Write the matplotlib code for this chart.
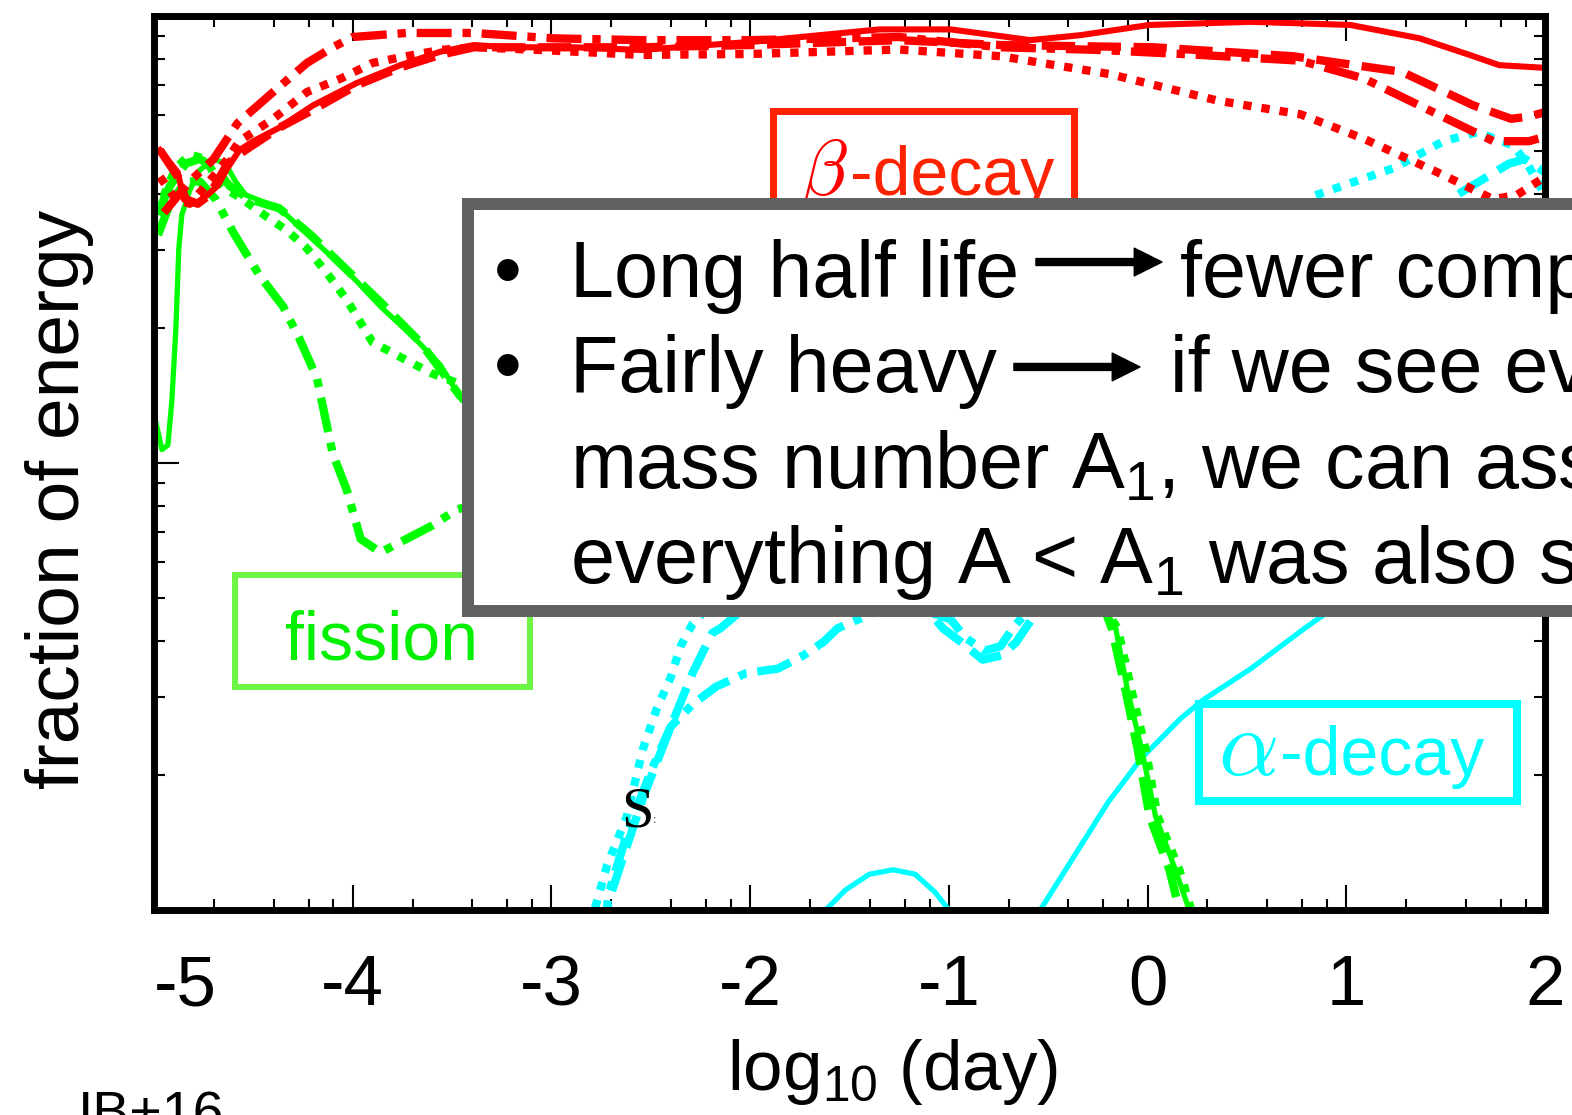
import numpy as np
import matplotlib
matplotlib.use("Agg")
import matplotlib.pyplot as plt
from matplotlib.patches import Rectangle, FancyArrowPatch
from matplotlib.ticker import NullFormatter

plt.rcParams['font.family'] = ['Liberation Sans', 'DejaVu Sans']
plt.rcParams['mathtext.fontset'] = 'custom'
plt.rcParams['mathtext.rm'] = 'Liberation Sans'
plt.rcParams['mathtext.it'] = 'Liberation Sans:italic'
plt.rcParams['mathtext.bf'] = 'Liberation Sans:bold'
plt.rcParams['axes.unicode_minus'] = False

# x values are log10(day), y values are log10(fraction of energy)
#region beta-decay (red)
red_solid_x = [-4.97, -4.88, -4.85, -4.79, -4.73, -4.68, -4.63, -4.57, -4.50, -4.37, -4.20, -3.98, -3.76, -3.56, -3.39,
               -3.22, -2.89, -2.55, -2.00, -1.35, -0.99, -0.59, -0.34, 0.01, 0.52, 1.02, 1.37, 1.62, 1.77, 2.00]
red_solid_y = [-0.30, -0.35, -0.41, -0.42, -0.40, -0.38, -0.34, -0.30, -0.28, -0.25, -0.20, -0.15, -0.11, -0.08, -0.065,
               -0.07, -0.07, -0.076, -0.058, -0.03, -0.03, -0.054, -0.043, -0.02, -0.013, -0.02, -0.05, -0.087, -0.11, -0.116]
red_dash_x = [-4.97, -4.88, -4.84, -4.78, -4.72, -4.63, -4.54, -4.37, -4.20, -3.98, -3.76, -3.56, -3.39, -2.89, -2.55,
              -2.00, -1.25, -0.74, 0.035, 0.73, 1.28, 1.64, 1.83, 1.92, 2.00]
red_dash_y = [-0.30, -0.36, -0.41, -0.42, -0.40, -0.33, -0.30, -0.25, -0.21, -0.155, -0.115, -0.087, -0.07, -0.07, -0.07,
              -0.065, -0.054, -0.065, -0.07, -0.09, -0.125, -0.20, -0.23, -0.225, -0.215]
red_dashdot_x = [-4.95, -4.82, -4.70, -4.58, -4.40, -4.23, -4.10, -4.00, -3.73, -3.39, -2.99, -2.55, -2.00, -1.25, -0.74,
                 -0.24, 0.26, 0.77, 1.09, 1.46, 1.74, 1.92, 2.00]
red_dashdot_y = [-0.44, -0.37, -0.32, -0.24, -0.17, -0.105, -0.07, -0.047, -0.038, -0.038, -0.05, -0.054, -0.054, -0.047,
                 -0.07, -0.076, -0.087, -0.10, -0.14, -0.22, -0.28, -0.28, -0.27]
red_dot_x = [-4.97, -4.89, -4.82, -4.74, -4.63, -4.57, -4.40, -4.23, -4.06, -3.90, -3.73, -3.56, -3.39, -3.06, -2.55,
             -2.00, -1.25, -0.74, -0.19, 0.36, 0.77, 1.09, 1.46, 1.74, 1.86, 2.00]
red_dot_y = [-0.36, -0.41, -0.42, -0.38, -0.32, -0.28, -0.23, -0.17, -0.14, -0.105, -0.09, -0.076, -0.07, -0.076, -0.087,
             -0.085, -0.075, -0.09, -0.13, -0.19, -0.22, -0.275, -0.35, -0.41, -0.40, -0.36]
#endregion

#region fission (green)
green_solid_x = [-4.99, -4.96, -4.93, -4.91, -4.89, -4.875, -4.86, -4.82, -4.77, -4.70, -4.64, -4.59, -4.54, -4.37, -4.20,
                 -4.03, -3.86, -3.69, -3.56, -3.45, -2.76, -1.75, -0.74, -0.24, -0.16, -0.10, -0.03, 0.04, 0.14, 0.21, 0.24]
green_solid_y = [-0.91, -0.97, -0.96, -0.86, -0.70, -0.52, -0.445, -0.39, -0.345, -0.32, -0.33, -0.37, -0.40, -0.43, -0.50,
                 -0.57, -0.65, -0.72, -0.78, -0.86, -1.02, -1.13, -1.22, -1.31, -1.37, -1.51, -1.64, -1.79, -1.91, -2.0, -2.07]
green_dash_x = [-4.97, -4.92, -4.84, -4.77, -4.69, -4.62, -4.52, -4.37, -4.21, -4.06, -3.86, -3.66, -3.46, -2.76, -1.75,
                -0.74, -0.24, -0.18, -0.11, -0.05, 0.01, 0.11, 0.16, 0.19]
green_dash_y = [-0.43, -0.38, -0.33, -0.32, -0.34, -0.38, -0.41, -0.43, -0.49, -0.555, -0.64, -0.73, -0.85, -1.0, -1.12,
                -1.21, -1.30, -1.37, -1.51, -1.64, -1.79, -1.91, -2.0, -2.07]
green_dot_x = [-4.98, -4.94, -4.89, -4.82, -4.74, -4.69, -4.63, -4.57, -4.43, -4.33, -4.23, -4.13, -4.03, -3.90, -3.73,
               -3.60, -3.48, -3.16, -2.25, -1.25, -0.24, -0.15, -0.08, -0.01, 0.05, 0.16, 0.22, 0.25]
green_dot_y = [-0.445, -0.39, -0.34, -0.31, -0.32, -0.36, -0.39, -0.405, -0.45, -0.48, -0.52, -0.575, -0.635, -0.73, -0.77,
               -0.80, -0.82, -0.90, -1.08, -1.19, -1.31, -1.37, -1.51, -1.64, -1.79, -1.91, -2.0, -2.07]
green_dashdot_x = [-4.98, -4.92, -4.84, -4.77, -4.69, -4.60, -4.47, -4.35, -4.27, -4.18, -4.10, -4.03, -3.96, -3.86,
                   -3.73, -3.60, -3.48, -3.16, -2.76]
green_dashdot_y = [-0.49, -0.42, -0.37, -0.37, -0.41, -0.485, -0.58, -0.65, -0.72, -0.81, -0.98, -1.06, -1.17, -1.20,
                   -1.17, -1.14, -1.105, -1.06, -1.04]
#endregion

#region alpha-decay (cyan)
cyan_solid_x = [-1.75, -1.62, -1.52, -1.40, -1.28, -1.17, -1.07, -1.00, -0.92, -0.64, -0.54, -0.37, -0.20, -0.03, 0.17,
                0.28, 0.52, 0.79, 1.27, 2.00]
cyan_solid_y = [-2.08, -2.0, -1.955, -1.92, -1.91, -1.92, -1.96, -2.0, -2.08, -2.11, -2.0, -1.88, -1.76, -1.66, -1.57,
                -1.53, -1.46, -1.37, -1.22, -1.04]
cyan_dash_x = [-2.76, -2.69, -2.54, -2.40, -2.29, -2.19, -2.15, -1.75, -1.25, -1.03, -0.94, -0.83, -0.73, -0.66, -0.63,
               -0.24, 0.77, 1.52, 1.67, 1.82, 1.90, 2.00]
cyan_dash_y = [-2.056, -1.95, -1.75, -1.59, -1.47, -1.38, -1.37, -1.22, -1.25, -1.37, -1.40, -1.44, -1.43, -1.40, -1.38,
               -1.13, -0.68, -0.41, -0.37, -0.33, -0.32, -0.35]
cyan_dot_x = [-2.81, -2.77, -2.72, -2.62, -2.54, -2.47, -2.40, -2.35, -2.29, -2.00, -1.25, -0.24, 0.52, 0.82, 1.24,
              1.49, 1.66, 1.84, 1.91, 2.00]
cyan_dot_y = [-2.034, -1.98, -1.90, -1.79, -1.64, -1.55, -1.48, -1.41, -1.36, -1.22, -1.02, -0.77, -0.55, -0.405, -0.34,
              -0.28, -0.26, -0.29, -0.33, -0.40]
cyan_dashdot_x = [-2.74, -2.71, -2.62, -2.50, -2.40, -2.29, -2.17, -2.02, -1.86, -1.73, -1.63, -1.56, -1.25, -0.99,
                  -0.92, -0.82, -0.74, -0.68, 0.26, 1.27, 1.57, 1.77, 2.00]
cyan_dashdot_y = [-2.056, -1.96, -1.83, -1.69, -1.59, -1.54, -1.50, -1.47, -1.46, -1.43, -1.40, -1.37, -1.31, -1.35,
                  -1.39, -1.42, -1.41, -1.37, -0.90, -0.55, -0.445, -0.42, -0.445]
#endregion

xtick_pos = [-5, -4, -3, -2, -1, 0, 1, 2]
xtick_labels = ["-5", "-4", "-3", "-2", "-1", "0", "1", "2"]

line1 = ["Long half life", "fewer complications"]
line2 = ["Fairly heavy", "if we see everything with"]
line3 = r"mass number $\mathrm{A}_1$, we can assume"
line4 = r"everything A < $\mathrm{A}_1$ was also seen"

RED, GREEN, CYAN = "#FF0000", "#00FF00", "#00FFFF"
DOT = (1.0, 1.2)
DASH = (4.0, 1.5)
DASHDOT = (4.2, 1.3, 1.0, 1.3)

fig = plt.figure(figsize=(15.72, 11.15), dpi=100)
ax = fig.add_axes([0.09796, 0.18386, 0.88486, 0.80179])

def draw(x, y, color, lw, dashes=None):
    yy = 10 ** np.array(y)
    if dashes is None:
        ax.plot(x, yy, color=color, lw=lw, solid_joinstyle='round')
    else:
        ax.plot(x, yy, color=color, lw=lw, dashes=dashes)

draw(cyan_solid_x, cyan_solid_y, CYAN, 3.8)
draw(cyan_dash_x, cyan_dash_y, CYAN, 6, DASH)
draw(cyan_dot_x, cyan_dot_y, CYAN, 6, DOT)
draw(cyan_dashdot_x, cyan_dashdot_y, CYAN, 6, DASHDOT)

draw(green_solid_x, green_solid_y, GREEN, 3.8)
draw(green_dash_x, green_dash_y, GREEN, 6, DASH)
draw(green_dot_x, green_dot_y, GREEN, 6, DOT)
draw(green_dashdot_x, green_dashdot_y, GREEN, 6, DASHDOT)

draw(red_solid_x, red_solid_y, RED, 4.4)
draw(red_dash_x, red_dash_y, RED, 6, DASH)
draw(red_dot_x, red_dot_y, RED, 6, DOT)
draw(red_dashdot_x, red_dashdot_y, RED, 6, DASHDOT)

ax.set_xlim(-5, 2)
ax.set_yscale('log')
ax.set_ylim(0.01, 1)
ax.set_xticks(xtick_pos)
ax.set_xticklabels(xtick_labels)
ax.set_xticks(np.concatenate([k + np.log10([2, 4, 6, 8]) for k in range(-5, 2)]), minor=True)
ax.yaxis.set_minor_formatter(NullFormatter())
ax.tick_params(which='both', direction='in', top=True, right=True, width=1.5, color='k')
ax.tick_params(which='major', length=18, labelsize=51, pad=32)
ax.tick_params(which='minor', length=8)
ax.tick_params(axis='y', which='both', labelleft=False)
ax.get_xticklabels()[0].set_ha('left')
for s in ax.spines.values():
    s.set_linewidth(5)

ax.set_xlabel(r"log$_{\mathrm{10}}$ (day)", fontsize=51)
ax.xaxis.set_label_coords(0.531, -0.142)
ax.set_ylabel("fraction of energy", fontsize=54)
ax.yaxis.set_label_coords(-0.043, 0.459)

# labelled boxes
fig.add_artist(Rectangle((0.4920, 0.77), 0.1909, 0.13, transform=fig.transFigure, fill=False,
                         ec="#FF2200", lw=5, zorder=2))
fig.text(0.5087, 0.8251, r"$\beta$", color="#FF0000", fontsize=56, ha='left', va='baseline', zorder=3,
         math_fontfamily='cm')
fig.text(0.5407, 0.8251, "-decay", color="#FF2200", fontsize=49, ha='left', va='baseline', zorder=3)

fig.add_artist(Rectangle((0.1495, 0.3839), 0.1877, 0.1004, transform=fig.transFigure, fill=False,
                         ec="#6CF542", lw=4.3, zorder=2))
fig.text(0.2424, 0.4081, "fission", color="#00F000", fontsize=49, ha='center', va='baseline', zorder=3)

fig.add_artist(Rectangle((0.7627, 0.2816), 0.2023, 0.0870, transform=fig.transFigure, fill=False,
                         ec=CYAN, lw=5.8, zorder=2))
fig.text(0.7748, 0.3049, r"$\alpha$", color=CYAN, fontsize=68, ha='left', va='baseline', zorder=3,
         math_fontfamily='cm')
fig.text(0.8142, 0.3049, "-decay", color=CYAN, fontsize=49, ha='left', va='baseline', zorder=3)

fig.text(0.3950, 0.259, "S", family="Liberation Serif", fontsize=42, zorder=3)
fig.text(0.4155, 0.262, ":", family="Liberation Serif", fontsize=9, color="#555555", zorder=3)

fig.text(0.0496, -0.0135, "IB+16", fontsize=40, va='baseline')

# big grey box on top
fig.add_artist(Rectangle((0.2977, 0.4520), 0.8, 0.3650, transform=fig.transFigure, fc='white',
                         ec="#606060", lw=8.6, zorder=5))
tx = 0.3626
fs = 57
fig.text(0.3232, 0.7336, "\u2022", fontsize=fs, ha='center', va='baseline', zorder=6)
fig.text(0.3232, 0.6484, "\u2022", fontsize=fs, ha='center', va='baseline', zorder=6)
fig.text(tx, 0.7336, line1[0], fontsize=fs, va='baseline', zorder=6)
fig.text(0.7506, 0.7336, line1[1], fontsize=fs, va='baseline', zorder=6)
fig.text(tx, 0.6484, line2[0], fontsize=fs, va='baseline', zorder=6)
fig.text(0.7443, 0.6484, line2[1], fontsize=fs, va='baseline', zorder=6)
fig.text(tx, 0.5623, line3, fontsize=fs, va='baseline', zorder=6)
fig.text(tx, 0.4771, line4, fontsize=fs, va='baseline', zorder=6)

for (x0, x1, y) in [(0.6590, 0.7392, 0.7650), (0.6450, 0.7252, 0.6709)]:
    fig.add_artist(FancyArrowPatch((x0, y), (x1, y), transform=fig.transFigure,
                                   arrowstyle='simple,head_length=1.0,head_width=1.0,tail_width=0.25',
                                   mutation_scale=20, color='k', shrinkA=0, shrinkB=0, zorder=6))

fig.savefig("out.png", dpi=100)
